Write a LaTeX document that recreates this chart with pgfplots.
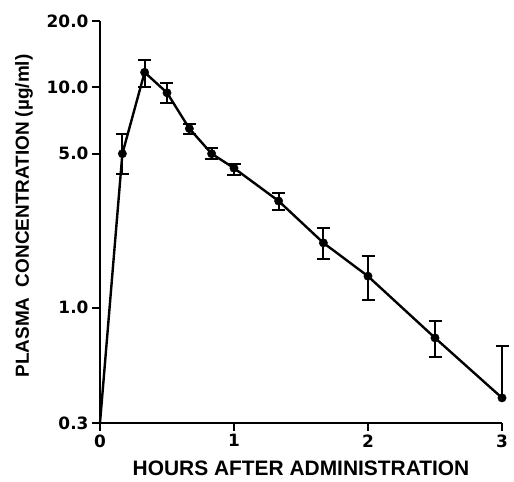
\documentclass[border=0pt]{standalone}
\usepackage{fontspec}
\setmainfont{Liberation Sans}
\newfontfamily\tickfont{DejaVu Sans}
\usepackage{pgfplots}
\pgfplotsset{compat=1.18}
\begin{document}
\begin{tikzpicture}
\begin{axis}[name=ax,
  scale only axis, width=402bp, height=402bp,
  xmin=0, xmax=3, ymin=0.3, ymax=20,
  ymode=log,
  axis lines=left,
  axis line style={-, line width=1.8bp},
  tick align=outside,
  major tick length=8bp,
  tick style={line width=1.8bp, black},
  xtick={0,1,2,3}, xticklabels={0,1,2,3},
  ytick={0.3,1,5,10,20}, yticklabels={0.3,1.0,5.0,10.0,20.0},
  minor ytick={}, 
  yminorticks=false,
  ticklabel style={font=\tickfont\bfseries\fontsize{17}{17}\selectfont},
  xlabel={HOURS AFTER ADMINISTRATION},
  ylabel={PLASMA\ \ CONCENTRATION (\textmu g/ml)},
  xlabel style={font=\bfseries\fontsize{21}{21}\selectfont, yshift=-7bp},
  ylabel style={font=\bfseries\fontsize{19}{19}\selectfont, yshift=7bp, xshift=6bp},
  clip=false,
]
% line
\addplot[black, line width=2.4bp, mark=none] coordinates {
 (0,0.3) (0.167,5.0) (0.333,11.7) (0.5,9.45) (0.667,6.5) (0.833,5.0) (1.0,4.3)
 (1.333,3.05) (1.667,1.97) (2.0,1.39) (2.5,0.73) (3.0,0.39)};
% marks
\addplot[black, only marks, mark=*, mark size=4.2bp] coordinates {
 (0.167,5.0) (0.333,11.7) (0.5,9.45) (0.667,6.5) (0.833,5.0) (1.0,4.3)
 (1.333,3.05) (1.667,1.97) (2.0,1.39) (2.5,0.73) (3.0,0.39)};
% error bars
\addplot[black, draw=none, mark=none,
  error bars/.cd, y dir=both, y explicit,
  error mark=|, error mark options={mark size=6.5bp, line width=2.2bp, black},
  error bar style={line width=2.2bp, black}]
 table[x=x, y=y, y error plus=ep, y error minus=em] {
 x y ep em
 0.167 5.0 1.14 0.96
 0.333 11.7 1.6 1.7
 0.5 9.45 1.05 0.95
 0.667 6.5 0.3 0.35
 0.833 5.0 0.3 0.27
 1.0 4.3 0.2 0.3
 1.333 3.05 0.26 0.27
 1.667 1.97 0.33 0.31
 2.0 1.39 0.33 0.31
 2.5 0.73 0.14 0.13
 };
\addplot[black, draw=none, mark=none,
  error bars/.cd, y dir=plus, y explicit,
  error mark=|, error mark options={mark size=6.5bp, line width=2.2bp, black},
  error bar style={line width=2.2bp, black}]
 table[x=x, y=y, y error plus=ep] {
 x y ep
 3.0 0.39 0.28
 };
\end{axis}
\path[use as bounding box] ([xshift=-100bp,yshift=-59bp]ax.south west) rectangle ([xshift=12bp,yshift=21bp]ax.north east);
\end{tikzpicture}
\end{document}
